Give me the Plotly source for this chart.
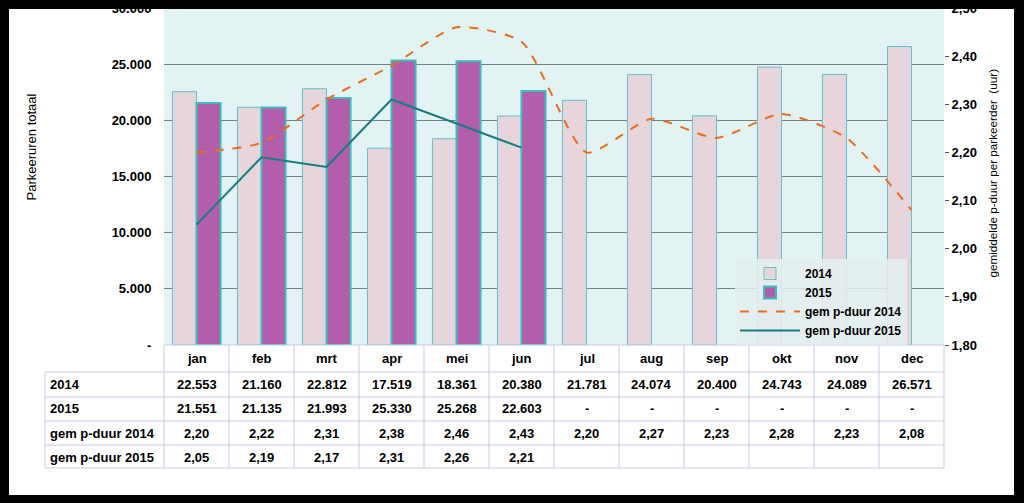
import plotly.graph_objects as go

# data
months = ['jan', 'feb', 'mrt', 'apr', 'mei', 'jun', 'jul', 'aug', 'sep', 'okt', 'nov', 'dec']
uren_2014 = [22553, 21160, 22812, 17519, 18361, 20380, 21781, 24074, 20400, 24743, 24089, 26571]
uren_2015 = [21551, 21135, 21993, 25330, 25268, 22603, None, None, None, None, None, None]
duur_2014 = [2.20, 2.22, 2.31, 2.38, 2.46, 2.43, 2.20, 2.27, 2.23, 2.28, 2.23, 2.08]
duur_2015 = [2.05, 2.19, 2.17, 2.31, 2.26, 2.21, None, None, None, None, None, None]
row_labels = ['2014', '2015', 'gem p-duur 2014', 'gem p-duur 2015']

left_ticks = [0, 5000, 10000, 15000, 20000, 25000, 30000]
left_ticktext = ['-', '5.000', '10.000', '15.000', '20.000', '25.000', '30.000']
right_ticks = [1.8, 1.9, 2.0, 2.1, 2.2, 2.3, 2.4, 2.5]
right_ticktext = ['1,80', '1,90', '2,00', '2,10', '2,20', '2,30', '2,40', '2,50']

W, H = 1024, 503
L, R, T, B = 164, 80, 8, 158
PW, PH = W - L - R, H - T - B
FONT = 'Liberation Sans, Arial, sans-serif'


def px(x):
    return (x - L) / PW


def py(y):
    return (H - B - y) / PH


def fmt_int(v):
    return '-' if v is None else f'{v:,}'.replace(',', '.')


def fmt_dec(v):
    return '' if v is None else f'{v:.2f}'.replace('.', ',')


fig = go.Figure()

fig.add_trace(go.Bar(
    x=months, y=uren_2014, name='2014',
    marker=dict(color='#e6d6db', line=dict(color='#62c4c4', width=1)),
))
fig.add_trace(go.Bar(
    x=months, y=uren_2015, name='2015',
    marker=dict(color='#b25eaa', line=dict(color='#3cbcbc', width=2)),
))
fig.add_trace(go.Scatter(
    x=months, y=duur_2014, name='gem p-duur 2014', yaxis='y2', mode='lines',
    line=dict(color='#ef6c1f', width=2, dash='dash', shape='spline', smoothing=0.6),
))
fig.add_trace(go.Scatter(
    x=months, y=duur_2015, name='gem p-duur 2015', yaxis='y2', mode='lines',
    line=dict(color='#177d7e', width=2),
))

shapes = [
    # white card inside the black frame
    dict(type='rect', xref='paper', yref='paper', x0=px(9), x1=px(1014), y0=py(495), y1=py(9),
         fillcolor='white', line=dict(width=0), layer='below'),
    # plot background
    dict(type='rect', xref='x domain', yref='y domain', x0=0, x1=1, y0=0, y1=1,
         fillcolor='#e3f2f2', line=dict(width=0), layer='below'),
    # top black band that cuts the 30.000 label
    dict(type='rect', xref='paper', yref='paper', x0=px(0), x1=px(W), y0=py(9), y1=py(0),
         fillcolor='black', line=dict(width=0), layer='above'),
]

# data table below the plot
grid = '#c9c9ee'
row_y = [345, 372, 397, 421, 445, 468]
col_w = PW / len(months)
shapes.append(dict(type='line', xref='paper', yref='paper', x0=0, x1=1, y0=py(345), y1=py(345),
                   line=dict(color=grid, width=1)))
for y in row_y[1:]:
    shapes.append(dict(type='line', xref='paper', yref='paper', x0=px(45), x1=1, y0=py(y), y1=py(y),
                       line=dict(color=grid, width=1)))
shapes.append(dict(type='line', xref='paper', yref='paper', x0=px(45), x1=px(45),
                   y0=py(372), y1=py(468), line=dict(color=grid, width=1)))
for i in range(len(months) + 1):
    x = px(L + i * col_w)
    shapes.append(dict(type='line', xref='paper', yref='paper', x0=x, x1=x,
                       y0=py(345), y1=py(468), line=dict(color=grid, width=1)))

cell_font = dict(family=FONT, size=13, color='black', weight='bold')
annotations = []
for i, m in enumerate(months):
    xc = px(L + (i + 0.5) * col_w)
    annotations.append(dict(x=xc, y=py(358.5), text=m))
    annotations.append(dict(x=xc, y=py(384.5), text=fmt_int(uren_2014[i])))
    annotations.append(dict(x=xc, y=py(409), text=fmt_int(uren_2015[i])))
    annotations.append(dict(x=xc, y=py(433), text=fmt_dec(duur_2014[i])))
    annotations.append(dict(x=xc, y=py(457), text=fmt_dec(duur_2015[i])))
for a in annotations:
    a.update(xref='paper', yref='paper', showarrow=False, font=cell_font,
             xanchor='center', yanchor='middle')
for lbl, y in zip(row_labels, [384.5, 409, 433, 457]):
    annotations.append(dict(x=px(48), y=py(y), text=lbl, xref='paper', yref='paper',
                            showarrow=False, font=cell_font, xanchor='left', yanchor='middle'))

annotations.append(dict(x=px(21), y=py(147), text='Parkeeruren totaal', textangle=-90,
                        xref='paper', yref='paper', showarrow=False,
                        font=dict(family=FONT, size=13, color='black')))
annotations.append(dict(x=px(1000), y=py(173), text='gemiddelde p-duur per parkeerder  (uur)',
                        textangle=-90, xref='paper', yref='paper', showarrow=False,
                        font=dict(family=FONT, size=11.7, color='black')))

tick_font = dict(family=FONT, size=13, color='black', weight='bold')

fig.update_layout(
    width=W, height=H,
    margin=dict(l=L, r=R, t=T, b=B, autoexpand=False),
    paper_bgcolor='black',
    plot_bgcolor='#e3f2f2',
    barmode='group',
    bargap=0.26,
    bargroupgap=0,
    showlegend=True,
    legend=dict(
        x=px(735), y=0, xanchor='left', yanchor='bottom',
        bgcolor='rgba(228,240,240,0.85)',
        font=dict(family=FONT, size=12, color='black', weight='bold'),
        itemwidth=60, tracegroupgap=0,
    ),
    xaxis=dict(
        type='category', showticklabels=False, showgrid=False, zeroline=False,
        showline=False, ticks='',
    ),
    yaxis=dict(
        range=[0, 30000], tickvals=left_ticks, ticktext=left_ticktext,
        showgrid=True, gridcolor='#6f8585', gridwidth=1, zeroline=False,
        showline=False, ticks='outside', ticklen=9, tickcolor='rgba(0,0,0,0)',
        tickfont=tick_font,
    ),
    yaxis2=dict(
        overlaying='y', side='right', range=[1.8, 2.5],
        tickvals=right_ticks, ticktext=right_ticktext,
        showgrid=False, zeroline=False, showline=False,
        ticks='outside', ticklen=4, tickcolor='#555555',
        tickfont=tick_font,
    ),
    shapes=shapes,
    annotations=annotations,
)

# the page's default body margin would push the figure 8px down and right
fig.write_html('out.html', config={'displayModeBar': False},
               post_script="document.body.style.margin='0';")
